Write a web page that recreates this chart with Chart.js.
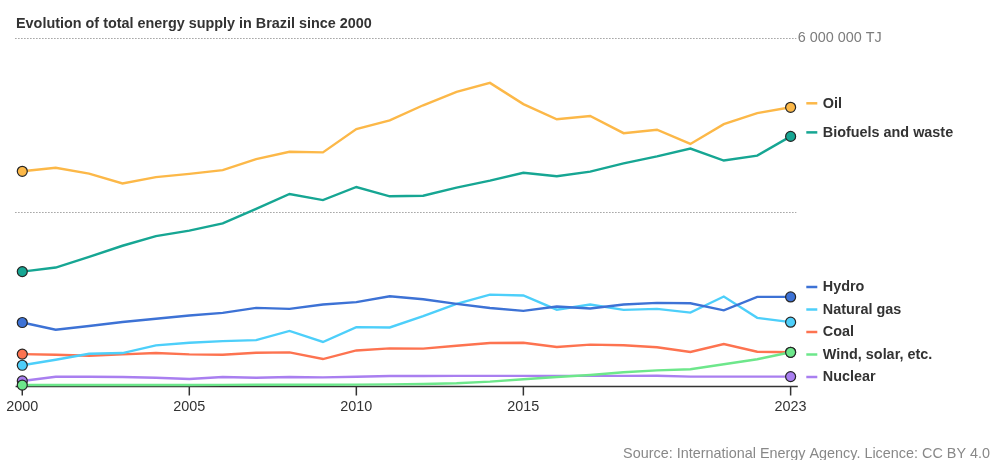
<!DOCTYPE html>
<html>
<head>
<meta charset="utf-8">
<script src="https://cdn.jsdelivr.net/npm/chart.js@4"></script>
<style>
  html, body { margin: 0; padding: 0; background: #fff; }
  #wrap { width: 993px; height: 460px; position: relative; }
</style>
</head>
<body>
<div id="wrap"><canvas id="c" width="993" height="460"></canvas></div>
<script>
// ---- Data (values in TJ) ----
const years = [2000,2001,2002,2003,2004,2005,2006,2007,2008,2009,2010,2011,2012,2013,2014,2015,2016,2017,2018,2019,2020,2021,2022,2023];

const oil = [3700000,3760000,3660000,3490000,3600000,3655000,3720000,3910000,4035000,4025000,4425000,4575000,4835000,5065000,5220000,4855000,4595000,4650000,4355000,4415000,4170000,4510000,4700000,4800000];
const biofuels = [1975000,2045000,2230000,2420000,2585000,2680000,2805000,3055000,3310000,3205000,3430000,3270000,3280000,3420000,3540000,3675000,3615000,3695000,3835000,3955000,4090000,3885000,3970000,4300000];
const hydro = [1100000,975000,1040000,1110000,1165000,1220000,1265000,1352000,1335000,1410000,1450000,1552000,1500000,1420000,1350000,1300000,1375000,1340000,1410000,1437000,1430000,1310000,1540000,1540000];
const naturalGas = [365000,460000,563000,575000,707000,751000,780000,798000,955000,765000,1020000,1015000,1210000,1420000,1580000,1565000,1320000,1410000,1317000,1335000,1270000,1547000,1180000,1106000];
const coal = [557000,545000,528000,552000,575000,552000,545000,580000,586000,472000,620000,655000,652000,700000,748000,753000,679000,720000,708000,674000,593000,730000,598000,588000];
const windSolar = [25000,25000,25000,26000,27000,27000,28000,29000,30000,31000,33000,36000,42000,55000,83000,124000,163000,198000,244000,278000,296000,382000,468000,588000];
const nuclear = [95000,168000,168000,163000,151000,129000,163000,151000,163000,157000,168000,180000,180000,183000,183000,183000,183000,183000,183000,185000,170000,170000,170000,170000];

const seriesNames = ['Oil','Biofuels and waste','Hydro','Natural gas','Coal','Wind, solar, etc.','Nuclear'];
const seriesColors = ['#fcb848','#16a693','#3d72d5','#4dcffa','#fd7350','#6de78b','#a97ff0'];
const seriesData = [oil, biofuels, hydro, naturalGas, coal, windSolar, nuclear];
const seriesOrder = [0, 0, 0, 0, 0, -1, 0];

const tickYears = [2000, 2005, 2010, 2015, 2023];
const gridValues = [3000000, 6000000];
const gridLabels = {6000000: '6 000 000 TJ'};

const titleText = 'Evolution of total energy supply in Brazil since 2000';
const sourceText = 'Source: International Energy Agency. Licence: CC BY 4.0';

// ---- Build datasets ----
const lastIdx = years.length - 1;
const datasets = seriesNames.map((name, i) => ({
  label: name,
  data: years.map((y, k) => ({x: y, y: seriesData[i][k]})),
  order: seriesOrder[i],
  borderColor: seriesColors[i],
  backgroundColor: seriesColors[i],
  pointBackgroundColor: seriesColors[i],
  pointBorderColor: '#262626',
  pointBorderWidth: 1.2,
  pointRadius: (ctx) => (ctx.dataIndex === 0 || ctx.dataIndex === lastIdx) ? 5 : 0,
  pointHoverRadius: 0,
  borderWidth: 2.4,
  tension: 0,
  clip: false,
  fill: false
}));

const FONT = '"Liberation Sans", Arial, Helvetica, sans-serif';

const decorPlugin = {
  id: 'decor',
  beforeDatasetsDraw(chart) {
    const ctx = chart.ctx;
    const xs = chart.scales.x, ys = chart.scales.y;
    const area = chart.chartArea;
    ctx.save();
    // dotted gridlines
    ctx.strokeStyle = '#a0a0a0';
    ctx.lineWidth = 1;
    ctx.setLineDash([1.5, 1.5]);
    gridValues.forEach(v => {
      const py = Math.round(ys.getPixelForValue(v)) + 0.5;
      ctx.beginPath();
      ctx.moveTo(area.left - 0.5, py);
      ctx.lineTo(area.right - 1, py);
      ctx.stroke();
    });
    ctx.setLineDash([]);
    // gridline labels
    ctx.fillStyle = '#7c7c7c';
    ctx.font = '14.4px ' + FONT;
    ctx.textAlign = 'left';
    ctx.textBaseline = 'middle';
    gridValues.forEach(v => {
      if (gridLabels[v]) {
        ctx.fillText(gridLabels[v], area.right + 0.5, ys.getPixelForValue(v) + 1);
      }
    });
    // x axis line
    const zy = ys.getPixelForValue(0);
    ctx.strokeStyle = '#333';
    ctx.lineWidth = 1.5;
    ctx.beginPath();
    ctx.moveTo(area.left, zy);
    ctx.lineTo(area.right + 0.5, zy);
    ctx.stroke();
    // ticks + labels
    ctx.fillStyle = '#333';
    ctx.textAlign = 'center';
    ctx.textBaseline = 'alphabetic';
    tickYears.forEach(t => {
      const px = xs.getPixelForValue(t);
      ctx.beginPath();
      ctx.moveTo(px, zy);
      ctx.lineTo(px, zy + 9);
      ctx.stroke();
      ctx.fillText(String(t), px, zy + 24);
    });
    // title
    ctx.font = 'bold 14.4px ' + FONT;
    ctx.fillStyle = '#333';
    ctx.textAlign = 'left';
    ctx.fillText(titleText, 16, 27.5);
    // source
    ctx.font = '14.4px ' + FONT;
    ctx.fillStyle = '#888';
    ctx.textAlign = 'right';
    ctx.fillText(sourceText, 990, 457.5);
    ctx.restore();
  },
  afterDatasetsDraw(chart) {
    const ctx = chart.ctx;
    const ys = chart.scales.y;
    const area = chart.chartArea;
    const gap = 22.5;
    const maxY = ys.getPixelForValue(0) - 9.5;
    // natural label positions
    let items = chart.data.datasets.map((ds, i) => {
      const meta = chart.getDatasetMeta(i);
      const pt = meta.data[meta.data.length - 1];
      return {i, target: pt.y - 4};
    });
    items.sort((a, b) => a.target - b.target);
    // cluster-based de-overlap
    let clusters = items.map(it => ({members: [it], top: it.target}));
    const place = (c) => {
      const n = c.members.length;
      const mean = c.members.reduce((s, m) => s + m.target, 0) / n;
      c.top = mean - (n - 1) * gap / 2;
      const bottom = c.top + (n - 1) * gap;
      if (bottom > maxY) c.top -= (bottom - maxY);
    };
    clusters.forEach(place);
    let merged = true;
    while (merged) {
      merged = false;
      for (let k = 0; k < clusters.length - 1; k++) {
        const a = clusters[k], b = clusters[k + 1];
        const aBottom = a.top + (a.members.length - 1) * gap;
        if (b.top - aBottom < gap) {
          const c = {members: a.members.concat(b.members), top: 0};
          place(c);
          clusters.splice(k, 2, c);
          merged = true;
          break;
        }
      }
    }
    ctx.save();
    ctx.font = 'bold 14.4px ' + FONT;
    ctx.textAlign = 'left';
    ctx.textBaseline = 'middle';
    clusters.forEach(c => {
      c.members.forEach((m, j) => {
        const y = c.top + j * gap;
        const ds = chart.data.datasets[m.i];
        ctx.strokeStyle = ds.borderColor;
        ctx.lineWidth = 2.5;
        ctx.beginPath();
        ctx.moveTo(area.right + 9, y);
        ctx.lineTo(area.right + 20, y);
        ctx.stroke();
        ctx.fillStyle = '#333';
        ctx.fillText(ds.label, area.right + 25.5, y + 0.5);
      });
    });
    ctx.restore();
  }
};

new Chart(document.getElementById('c'), {
  type: 'line',
  data: { datasets },
  options: {
    responsive: false,
    animation: false,
    events: [],
    layout: { padding: { left: 15.6, right: 195.7, top: 37.5, bottom: 73.5 } },
    plugins: { legend: { display: false }, tooltip: { enabled: false }, title: { display: false } },
    scales: {
      x: { type: 'linear', min: 1999.8, max: 2023.2, display: false },
      y: { type: 'linear', min: 0, max: 6000000, display: false }
    }
  },
  plugins: [decorPlugin]
});
</script>
</body>
</html>
